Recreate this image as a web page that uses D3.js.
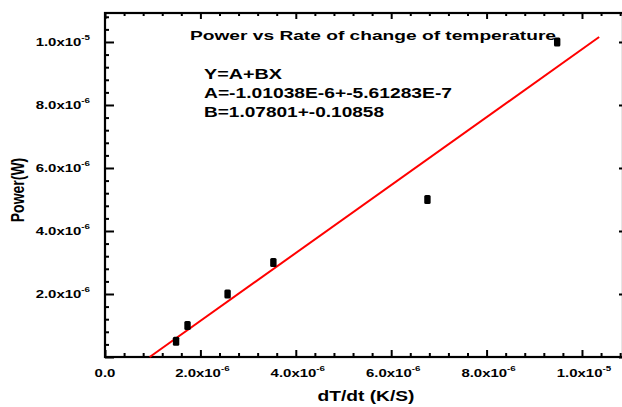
<!DOCTYPE html>
<html><head><meta charset="utf-8">
<script src="https://cdn.jsdelivr.net/npm/d3@7/dist/d3.min.js"></script>
<style>body{margin:0;background:#fff}svg{display:block}text{font-family:"Liberation Sans",Arial,sans-serif}</style>
</head><body>
<svg id="c" width="622" height="407"></svg>
<script>
// Data
const xData = [1.49e-6, 1.73e-6, 2.57e-6, 3.53e-6, 6.76e-6, 9.48e-6];
const yData = [0.5e-6, 1.0e-6, 2.0e-6, 3.0e-6, 5.0e-6, 1.0e-5];
const fitA = -1.01038e-6;
const fitB = 1.07801;
const fitXRange = [0.937e-6, 1.036e-5];
const xTicks = [0, 2e-6, 4e-6, 6e-6, 8e-6, 1e-5];
const yTicks = [2e-6, 4e-6, 6e-6, 8e-6, 1e-5];
const titleText = "Power vs Rate of change of temperature";
const fitLines = ["Y=A+BX", "A=-1.01038E-6+-5.61283E-7", "B=1.07801+-0.10858"];
const xTitle = "dT/dt (K/S)";
const yTitle = "Power(W)";

const svg = d3.select("#c");
const L = 105, R = 623, T = 13, B = 357;
const x = d3.scaleLinear().domain([0, 1.086e-5]).range([L, R]);
const y = d3.scaleLinear().domain([0, 1.092e-5]).range([B, T]);
const SX = 1.3;

const minorX = d3.range(0, 1.086e-5, 0.4e-6).filter(v => Math.abs(v / 2e-6 - Math.round(v / 2e-6)) > 1e-6);
const minorY = d3.range(0, 1.092e-5, 0.4e-6).filter(v => Math.abs(v / 2e-6 - Math.round(v / 2e-6)) > 1e-6);
const majorX = d3.range(0, 1.086e-5, 2e-6);
const majorY = d3.range(0, 1.092e-5, 2e-6);

function ax(gen, tx, ty, vals, size) {
  svg.append("g").attr("transform", `translate(${tx},${ty})`)
    .call(gen.tickValues(vals).tickSize(size).tickFormat(""))
    .call(g => g.select(".domain").remove())
    .selectAll("line").attr("stroke", "#000").attr("stroke-width", 2);
}
// inward ticks
ax(d3.axisBottom(x), 0, B, majorX, -7);
ax(d3.axisBottom(x), 0, B, minorX, -4);
ax(d3.axisTop(x), 0, T, majorX, -6);
ax(d3.axisTop(x), 0, T, minorX, -3);
ax(d3.axisLeft(y), L, 0, majorY, -9);
ax(d3.axisLeft(y), L, 0, minorY, -4);
ax(d3.axisRight(y), R, 0, majorY, -4);

// frame
svg.append("rect").attr("x", L).attr("y", T).attr("width", R - L).attr("height", B - T)
  .attr("fill", "none").attr("stroke", "#000").attr("stroke-width", 2.2);

function sci(v) {
  if (v === 0) return { m: "0.0", e: null };
  const e = Math.floor(Math.log10(v) + 1e-9);
  const m = (v / Math.pow(10, e)).toFixed(1);
  return { m: m + "x10", e: String(e) };
}
function label(px, py, v, anchor) {
  const s = sci(v);
  const t = svg.append("text").attr("transform", `translate(${px},${py}) scale(${SX},1)`)
    .attr("text-anchor", anchor).attr("font-size", 11.5).attr("font-weight", "bold").attr("fill", "#000");
  t.append("tspan").text(s.m);
  if (s.e) t.append("tspan").attr("font-size", 7.5).attr("dy", -6).text(s.e);
}
xTicks.forEach(v => label(x(v) + (v === 0 ? 0 : 2), 377, v, "middle"));
yTicks.forEach(v => label(90, y(v) + 4, v, "end"));

// fit line
svg.append("line")
  .attr("x1", x(fitXRange[0])).attr("y1", y(fitA + fitB * fitXRange[0]))
  .attr("x2", x(fitXRange[1])).attr("y2", y(fitA + fitB * fitXRange[1]))
  .attr("stroke", "#ff0000").attr("stroke-width", 2);

// points
svg.selectAll("rect.pt").data(xData.map((d, i) => [d, yData[i]])).enter()
  .append("rect").attr("class", "pt")
  .attr("x", d => x(d[0]) - 3.2).attr("y", d => y(d[1]) - 4.5)
  .attr("width", 6.4).attr("height", 9).attr("rx", 1.5).attr("fill", "#000");

// title and fit text
svg.append("text").attr("x", 190).attr("y", 40).attr("font-size", 13).attr("font-weight", "bold")
  .attr("textLength", 366).attr("lengthAdjust", "spacingAndGlyphs").text(titleText);
const fitLens = [78, 248, 180];
const fitY = [79, 97.5, 116.5];
fitLines.forEach((t, i) => svg.append("text").attr("x", 204).attr("y", fitY[i])
  .attr("font-size", 15).attr("font-weight", "bold")
  .attr("textLength", fitLens[i]).attr("lengthAdjust", "spacingAndGlyphs").text(t));

// axis titles
svg.append("text").attr("x", 366).attr("y", 401).attr("text-anchor", "middle")
  .attr("font-size", 14).attr("font-weight", "bold")
  .attr("textLength", 97).attr("lengthAdjust", "spacingAndGlyphs").text(xTitle);
svg.append("text").attr("transform", `translate(24,190) scale(${SX},1) rotate(-90)`)
  .attr("text-anchor", "middle").attr("font-size", 14).attr("font-weight", "bold").text(yTitle);
</script>
</body></html>
